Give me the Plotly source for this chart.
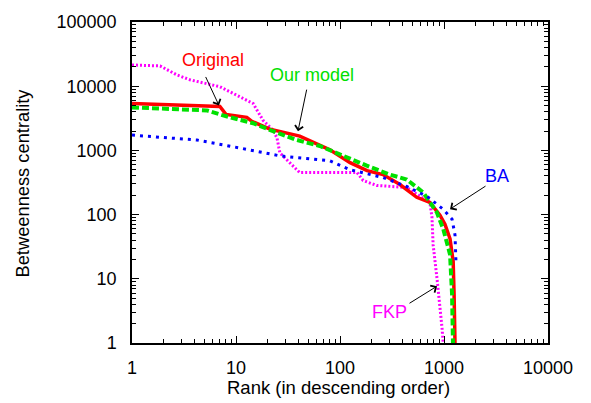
import plotly.graph_objects as go

# ---------------- data ----------------
orig_rank = [1, 3, 7.0, 8.0, 12.7, 14.2, 21.2, 41, 80, 125, 182, 259, 377, 547, 731, 914, 1021, 1143, 1225, 1250, 1276]
orig_val = [5380, 5100, 4840, 3640, 3270, 2840, 2140, 1670, 1020, 643, 484, 420, 294, 186, 155, 98, 71, 42, 18.6, 5.8, 1.0]

model_rank = [1, 5.26, 7.5, 11.7, 14.6, 22.7, 38.6, 64, 107, 181, 302, 438, 630, 853, 982, 1143, 1195, 1220]
model_val = [4670, 4200, 3510, 2940, 2650, 1990, 1450, 1170, 822, 578, 420, 352, 222, 109, 60, 24, 5.8, 1.0]

ba_rank = [1, 4.22, 10.9, 26.4, 80, 125, 259, 438, 685, 982, 1195, 1276, 1303]
ba_val = [1730, 1450, 1090, 822, 689, 500, 378, 274, 193, 121, 85, 48, 18.6]

fkp_rank = [1, 1.86, 2.7, 3.6, 7.0, 10.9, 14.6, 18.2, 22.7, 24.8, 26.4, 30.9, 35.3, 41, 146, 167, 226, 438, 547, 731, 766, 786, 856, 914, 957, 982]
fkp_val = [21400, 20700, 15000, 12600, 9820, 6890, 5380, 2940, 2070, 1560, 915, 710, 578, 451, 451, 339, 284, 265, 207, 155, 91, 34, 10.2, 4.05, 1.73, 1.0]

x_ticks = [1, 10, 100, 1000, 10000]
y_ticks = [1, 10, 100, 1000, 10000, 100000]

FONT = "Liberation Sans, Arial, sans-serif"
RED, GREEN, BLUE, MAG = "#ff0000", "#00e000", "#0000ff", "#ff00ff"

fig = go.Figure()
fig.add_trace(go.Scatter(x=fkp_rank, y=fkp_val, mode="lines",
                         line=dict(color=MAG, width=3, dash="2px,2px")))
fig.add_trace(go.Scatter(x=orig_rank, y=orig_val, mode="lines",
                         line=dict(color=RED, width=3.5)))
fig.add_trace(go.Scatter(x=model_rank, y=model_val, mode="lines",
                         line=dict(color=GREEN, width=4, dash="7px,3px")))
fig.add_trace(go.Scatter(x=ba_rank, y=ba_val, mode="lines",
                         line=dict(color=BLUE, width=3, dash="3px,5px")))

L, R, T, B = 132, 43, 18, 60
W, H = 591, 403
pw, ph = W - L - R, H - T - B

def px(xp):
    return (xp - L) / pw

def py(yp):
    return (H - B - yp) / ph

anns = []
# labels
for txt, cx, cy, col in [("Original", 213, 56, RED), ("Our model", 312, 72, GREEN),
                         ("BA", 497, 174, BLUE), ("FKP", 389, 312, MAG)]:
    anns.append(dict(text=txt, x=px(cx), y=py(cy), xref="paper", yref="paper",
                     showarrow=False, xanchor="center", yanchor="middle",
                     font=dict(color=col, size=18, family=FONT)))
# arrows (head in log10 data coords, tail offset in pixels)
for hx, hy, ax, ay in [(0.8365, 3.70, -14, -30), (1.596, 3.30, 9, -43),
                       (3.058, 2.085, 37, -24), (2.933, 0.885, -29, 18)]:
    anns.append(dict(text="", x=hx, y=hy, xref="x", yref="y", ax=ax, ay=ay,
                     showarrow=True, arrowhead=4, arrowsize=1.6, arrowwidth=1,
                     arrowcolor="black"))
# axis titles
anns.append(dict(text="Rank (in descending order)", x=px(338.5), y=py(388),
                 xref="paper", yref="paper", showarrow=False,
                 xanchor="center", yanchor="middle",
                 font=dict(size=18.5, color="black", family=FONT)))
anns.append(dict(text="Betweenness centrality", x=px(22.5), y=py(181),
                 xref="paper", yref="paper", showarrow=False, textangle=-90,
                 xanchor="center", yanchor="middle",
                 font=dict(size=18.3, color="black", family=FONT)))

axis_common = dict(type="log", showgrid=False, zeroline=False, showline=True,
                   linecolor="black", linewidth=1.5, mirror="allticks",
                   ticks="inside", ticklen=7, tickwidth=1, tickcolor="black",
                   tickfont=dict(size=18, color="black", family=FONT),
                   minor=dict(ticks="inside", ticklen=4, tickwidth=1,
                              tickcolor="black", dtick="D1", showgrid=False))

fig.update_layout(
    width=W, height=H, margin=dict(l=L, r=R, t=T, b=B),
    paper_bgcolor="white", plot_bgcolor="white", showlegend=False,
    font=dict(family=FONT, size=18, color="black"),
    xaxis=dict(range=[0, 4], tickvals=x_ticks, ticktext=[str(v) for v in x_ticks],
               ticklabelstandoff=8, **axis_common),
    yaxis=dict(range=[0, 5], tickvals=y_ticks, ticktext=[str(v) for v in y_ticks],
               ticklabelstandoff=10, **axis_common),
    annotations=anns,
)

fig.write_html("out.html")
